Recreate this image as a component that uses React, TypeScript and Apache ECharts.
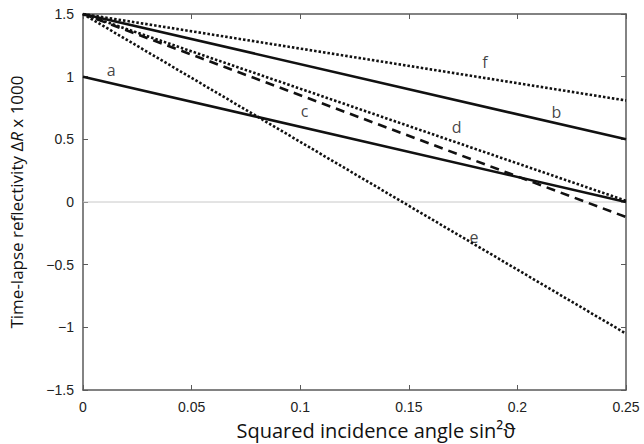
import React, { useEffect, useRef } from "react";
import * as echarts from "echarts";

// x = squared incidence angle sin^2(theta), y = time-lapse reflectivity x 1000
const xEnds = [0, 0.25];
const lineA = [1.0, 0.0];
const lineB = [1.5, 0.5];
const lineC = [1.5, -0.12];
const lineD = [1.5, 0.01];
const lineE = [1.5, -1.05];
const lineF = [1.5, 0.81];
const zeroLine = [0, 0];

const labelNames = ["a", "b", "c", "d", "e", "f"];
const labelX = [0.013, 0.218, 0.102, 0.172, 0.18, 0.185];
const labelY = [1.05, 0.72, 0.73, 0.6, -0.28, 1.12];

const xTicks = [0, 0.05, 0.1, 0.15, 0.2, 0.25];
const yTicks = [-1.5, -1, -0.5, 0, 0.5, 1, 1.5];

const pts = (ys: number[]) => ys.map((y, i) => [xEnds[i], y]);

export default function App() {
  const ref = useRef<HTMLDivElement>(null);
  useEffect(() => {
    if (!ref.current) return;
    const chart = echarts.init(ref.current, undefined, { renderer: "svg" });
    const axisColor = "#5a5a5a";
    const tickFont = {
      fontFamily: "Liberation Sans",
      fontSize: 14,
      color: "#222",
    };
    const lineSeries = (name: string, ys: number[], type: any) => ({
      name,
      type: "line",
      data: pts(ys),
      symbol: "none",
      silent: true,
      lineStyle: {
        color: "#111",
        width: 2.6,
        type,
        cap: "butt",
      },
      z: 3,
    });
    chart.setOption({
      animation: false,
      backgroundColor: "#fff",
      grid: { left: 82, right: 18, top: 14, bottom: 54 },
      xAxis: [
        {
          type: "value",
          min: xTicks[0],
          max: xTicks[xTicks.length - 1],
          interval: 0.05,
          axisLine: { show: true, onZero: false, lineStyle: { color: axisColor, width: 1.5 } },
          axisTick: { show: true, inside: true, length: 5, lineStyle: { color: axisColor } },
          splitLine: { show: false },
          axisLabel: {
            ...tickFont,
            margin: 10,
            formatter: (v: number) => String(Number(v.toFixed(2))),
          },
        },
        {
          type: "value",
          position: "top",
          min: 0,
          max: 0.25,
          interval: 0.05,
          axisLine: { show: true, onZero: false, lineStyle: { color: axisColor, width: 1.5 } },
          axisTick: { show: true, inside: true, length: 5, lineStyle: { color: axisColor } },
          axisLabel: { show: false },
          splitLine: { show: false },
        },
      ],
      yAxis: [
        {
          type: "value",
          min: yTicks[0],
          max: yTicks[yTicks.length - 1],
          interval: 0.5,
          axisLine: { show: true, onZero: false, lineStyle: { color: axisColor, width: 1.5 } },
          axisTick: { show: true, inside: true, length: 5, lineStyle: { color: axisColor } },
          splitLine: { show: false },
          axisLabel: {
            ...tickFont,
            margin: 9,
            formatter: (v: number) => String(v).replace("-", "\u2212"),
          },
          name: "Time-lapse reflectivity \u0394{i|R} x 1000",
          nameLocation: "middle",
          nameGap: 58,
          nameRotate: 90,
          nameTextStyle: {
            fontFamily: "Open Sans",
            fontSize: 17,
            color: "#111",
            rich: {
              i: { fontFamily: "Open Sans", fontSize: 17, fontStyle: "italic", color: "#111" },
            },
          },
        },
        {
          type: "value",
          position: "right",
          min: -1.5,
          max: 1.5,
          interval: 0.5,
          axisLine: { show: true, onZero: false, lineStyle: { color: axisColor, width: 1.5 } },
          axisTick: { show: true, inside: true, length: 5, lineStyle: { color: axisColor } },
          axisLabel: { show: false },
          splitLine: { show: false },
        },
      ],
      graphic: [
        {
          type: "text",
          x: 376,
          y: 430,
          style: {
            text: "Squared incidence angle sin\u00b2\u03d1",
            fontFamily: "Open Sans",
            fontSize: 20,
            fill: "#111",
            align: "center",
            verticalAlign: "middle",
          },
        },
      ],
      series: [
        {
          name: "zero",
          type: "line",
          data: pts(zeroLine),
          symbol: "none",
          silent: true,
          lineStyle: { color: "#c8c8c8", width: 1 },
          z: 1,
        },
        lineSeries("a", lineA, "solid"),
        lineSeries("b", lineB, "solid"),
        lineSeries("c", lineC, [9, 6]),
        lineSeries("d", lineD, [2.5, 2]),
        lineSeries("e", lineE, [2.5, 2]),
        lineSeries("f", lineF, [2.5, 2]),
        {
          name: "labels",
          type: "scatter",
          symbolSize: 1,
          silent: true,
          itemStyle: { color: "rgba(0,0,0,0)" },
          data: labelNames.map((n, i) => ({ name: n, value: [labelX[i], labelY[i]] })),
          label: {
            show: true,
            position: "inside",
            formatter: (p: any) => p.name,
            fontFamily: "Open Sans",
            fontSize: 16,
            color: "#111",
            textBorderWidth: 0,
          },
          z: 5,
        },
      ],
    });
    return () => chart.dispose();
  }, []);
  return (
    <div
      ref={ref}
      style={{ position: "absolute", left: 0, top: 0, width: 644, height: 444 }}
    />
  );
}
